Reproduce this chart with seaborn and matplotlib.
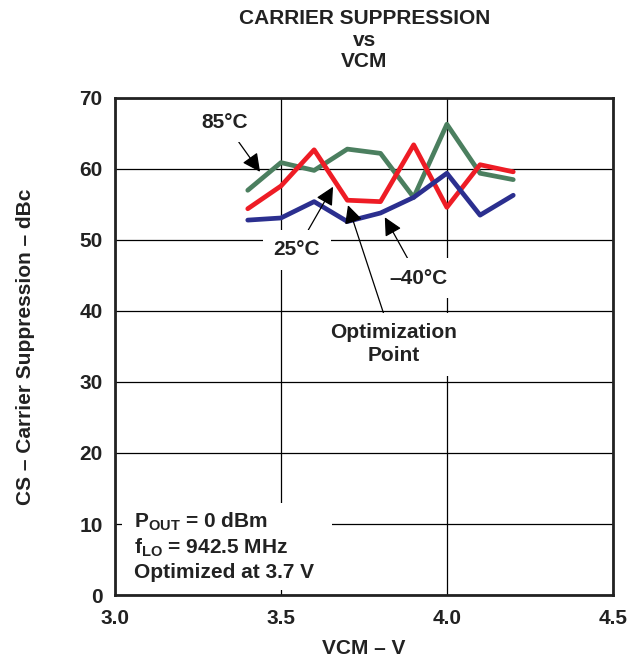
import matplotlib
matplotlib.use("Agg")
import matplotlib.pyplot as plt
from matplotlib.patches import Rectangle
import seaborn as sns
import pandas as pd

vcm = [3.4, 3.5, 3.6, 3.7, 3.8, 3.9, 4.0, 4.1, 4.2]
cs_85 = [57.0, 60.9, 59.8, 62.8, 62.2, 56.0, 66.3, 59.4, 58.5]
cs_25 = [54.4, 57.6, 62.7, 55.6, 55.4, 63.4, 54.6, 60.6, 59.6]
cs_m40 = [52.8, 53.1, 55.4, 52.6, 53.8, 56.0, 59.4, 53.5, 56.3]
series_names = ["85°C", "25°C", "–40°C"]
colors = ["#4b7f5f", "#ee1c25", "#2b2f8f"]
x_ticks = [3.0, 3.5, 4.0, 4.5]
y_ticks = [0, 10, 20, 30, 40, 50, 60, 70]
cond_lines = ["P$_{\\mathbf{OUT}}$ = 0 dBm", "f$_{\\mathbf{LO}}$ = 942.5 MHz", "Optimized at 3.7 V"]

sns.set_theme(style="white")
plt.rcParams['font.family'] = ['Liberation Sans', 'DejaVu Sans']
plt.rcParams['mathtext.fontset'] = 'custom'
plt.rcParams['mathtext.bf'] = 'Liberation Sans:bold'
plt.rcParams['mathtext.rm'] = 'Liberation Sans'

FS = 15

rows = []
for name, vals in zip(series_names, [cs_85, cs_25, cs_m40]):
    for x, y in zip(vcm, vals):
        rows.append({"VCM": x, "CS": y, "Temp": name})
df = pd.DataFrame(rows)

fig = plt.figure(figsize=(6.39, 6.62), dpi=100)
ax = fig.add_axes([0.180, 0.1012, 0.779, 0.7508])

sns.lineplot(data=df, x="VCM", y="CS", hue="Temp", palette=colors,
             hue_order=series_names, linewidth=3.4, legend=False, ax=ax, zorder=3)

ax.set_xlim(3.0, 4.5)
ax.set_ylim(0, 70)
ax.set_xticks(x_ticks)
ax.set_xticklabels([f"{t:.1f}" for t in x_ticks])
ax.set_yticks(y_ticks)
ax.grid(True, color="black", linewidth=0.9)
ax.set_axisbelow(True)
for s in ax.spines.values():
    s.set_color("#222222")
    s.set_linewidth(2.0)
ax.tick_params(axis="x", labelsize=FS, length=0, pad=10)
ax.tick_params(axis="y", labelsize=FS, length=0, pad=9)
for lbl in ax.get_xticklabels() + ax.get_yticklabels():
    lbl.set_fontweight("bold")
    lbl.set_color("#222222")

ax.set_xlabel("VCM – V", fontsize=FS, fontweight="bold", labelpad=8, color="#222222")
ax.set_ylabel("CS – Carrier Suppression – dBc", fontsize=FS, fontweight="bold",
              labelpad=32, color="#222222")

fig.text(0.570, 1 - 9 / 662, "CARRIER SUPPRESSION\nvs\nVCM", ha="center", va="top",
         fontsize=FS, fontweight="bold", linespacing=1.18, color="#222222")

bbox = dict(boxstyle="square,pad=0.5", facecolor="white", edgecolor="none")
ap = dict(arrowstyle="-|>,head_length=0.5,head_width=0.25", color="black", lw=0.9,
          mutation_scale=22, shrinkA=0, shrinkB=0)

txt_kw = dict(fontsize=FS, fontweight="bold", ha="center", va="center", bbox=bbox,
              arrowprops=ap, zorder=4, color="#222222")
ax.annotate("85°C", xy=(3.437, 59.6), xytext=(3.33, 66.6), **txt_kw)
ax.annotate("25°C", xy=(3.657, 57.5), xytext=(3.548, 48.6), **txt_kw)
ax.annotate("–40°C", xy=(3.813, 53.2), xytext=(3.915, 44.6), **txt_kw)
ax.annotate("Optimization\nPoint", xy=(3.702, 54.9), xytext=(3.84, 35.3),
            linespacing=1.25, **txt_kw)

ax.add_patch(Rectangle((3.021, 0.7), 0.633, 12.3, facecolor="white", edgecolor="none",
                       zorder=2.5))
for yv, line in zip([10.3, 6.7, 3.1], cond_lines):
    ax.text(3.058, yv, line, fontsize=FS, fontweight="bold", ha="left", va="center",
            zorder=4, color="#222222")

fig.savefig("out.png", dpi=100)
